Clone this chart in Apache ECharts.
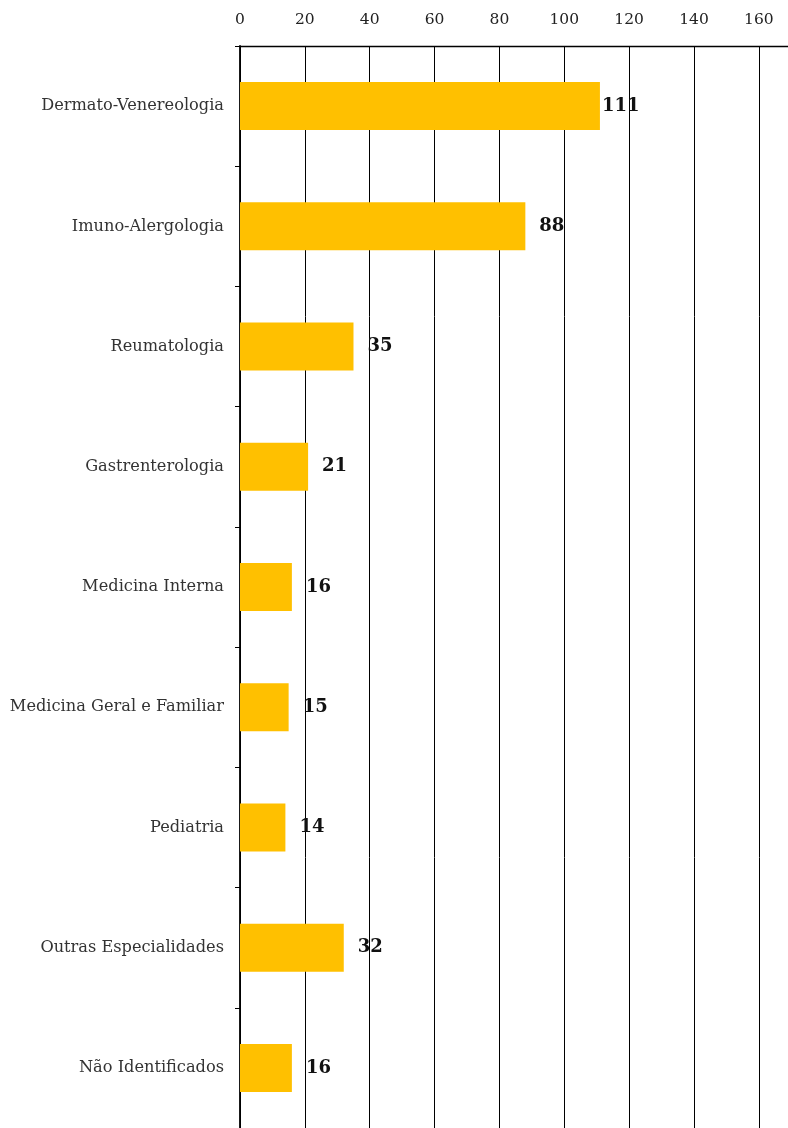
<!DOCTYPE html>
<html>
<head>
<meta charset="utf-8">
<script src="https://cdn.jsdelivr.net/npm/echarts@6/dist/echarts.min.js"></script>
<style>
  html, body { margin: 0; padding: 0; background: #fff; }
  #chart { width: 788px; height: 1128px; }
</style>
</head>
<body>
<div id="chart"></div>
<script>
// categorias (de cima para baixo)
const categories = [
  'Dermato-Venereologia',
  'Imuno-Alergologia',
  'Reumatologia',
  'Gastrenterologia',
  'Medicina Interna',
  'Medicina Geral e Familiar',
  'Pediatria',
  'Outras Especialidades',
  'Não Identificados'
];
const values = [111, 88, 35, 21, 16, 15, 14, 32, 16];

const chart = echarts.init(document.getElementById('chart'));

// o rótulo de 111 fica colado à barra
const barData = values.map(v => v > 100 ? { value: v, label: { distance: 2 } } : v);

const option = {
  animation: false,
  grid: { left: 240, right: 0, top: 46, height: 1090 },
  xAxis: {
    type: 'value',
    position: 'top',
    min: 0,
    max: 169,
    interval: 20,
    axisLine: { show: true, lineStyle: { color: '#000', width: 1.3 } },
    axisTick: { show: false },
    axisLabel: {
      showMaxLabel: false,
      margin: 18,
      fontFamily: 'DejaVu Serif',
      fontSize: 15.5,
      color: '#222'
    },
    splitLine: { show: true, lineStyle: { color: '#000', width: 1 } }
  },
  yAxis: {
    type: 'category',
    inverse: true,
    data: categories,
    axisLine: { show: true, lineStyle: { color: '#000', width: 1.8 } },
    axisTick: { show: true, length: 5, lineStyle: { color: '#000' } },
    axisLabel: {
      margin: 16,
      fontFamily: 'DejaVu Serif',
      fontSize: 16.2,
      color: '#333'
    }
  },
  series: [{
    type: 'bar',
    data: barData,
    barWidth: 48,
    itemStyle: { color: '#FFC000' },
    label: {
      show: true,
      position: 'right',
      distance: 14,
      fontFamily: 'DejaVu Serif',
      fontWeight: 'bold',
      fontSize: 18,
      color: '#111'
    }
  }]
};

chart.setOption(option);
</script>
</body>
</html>
